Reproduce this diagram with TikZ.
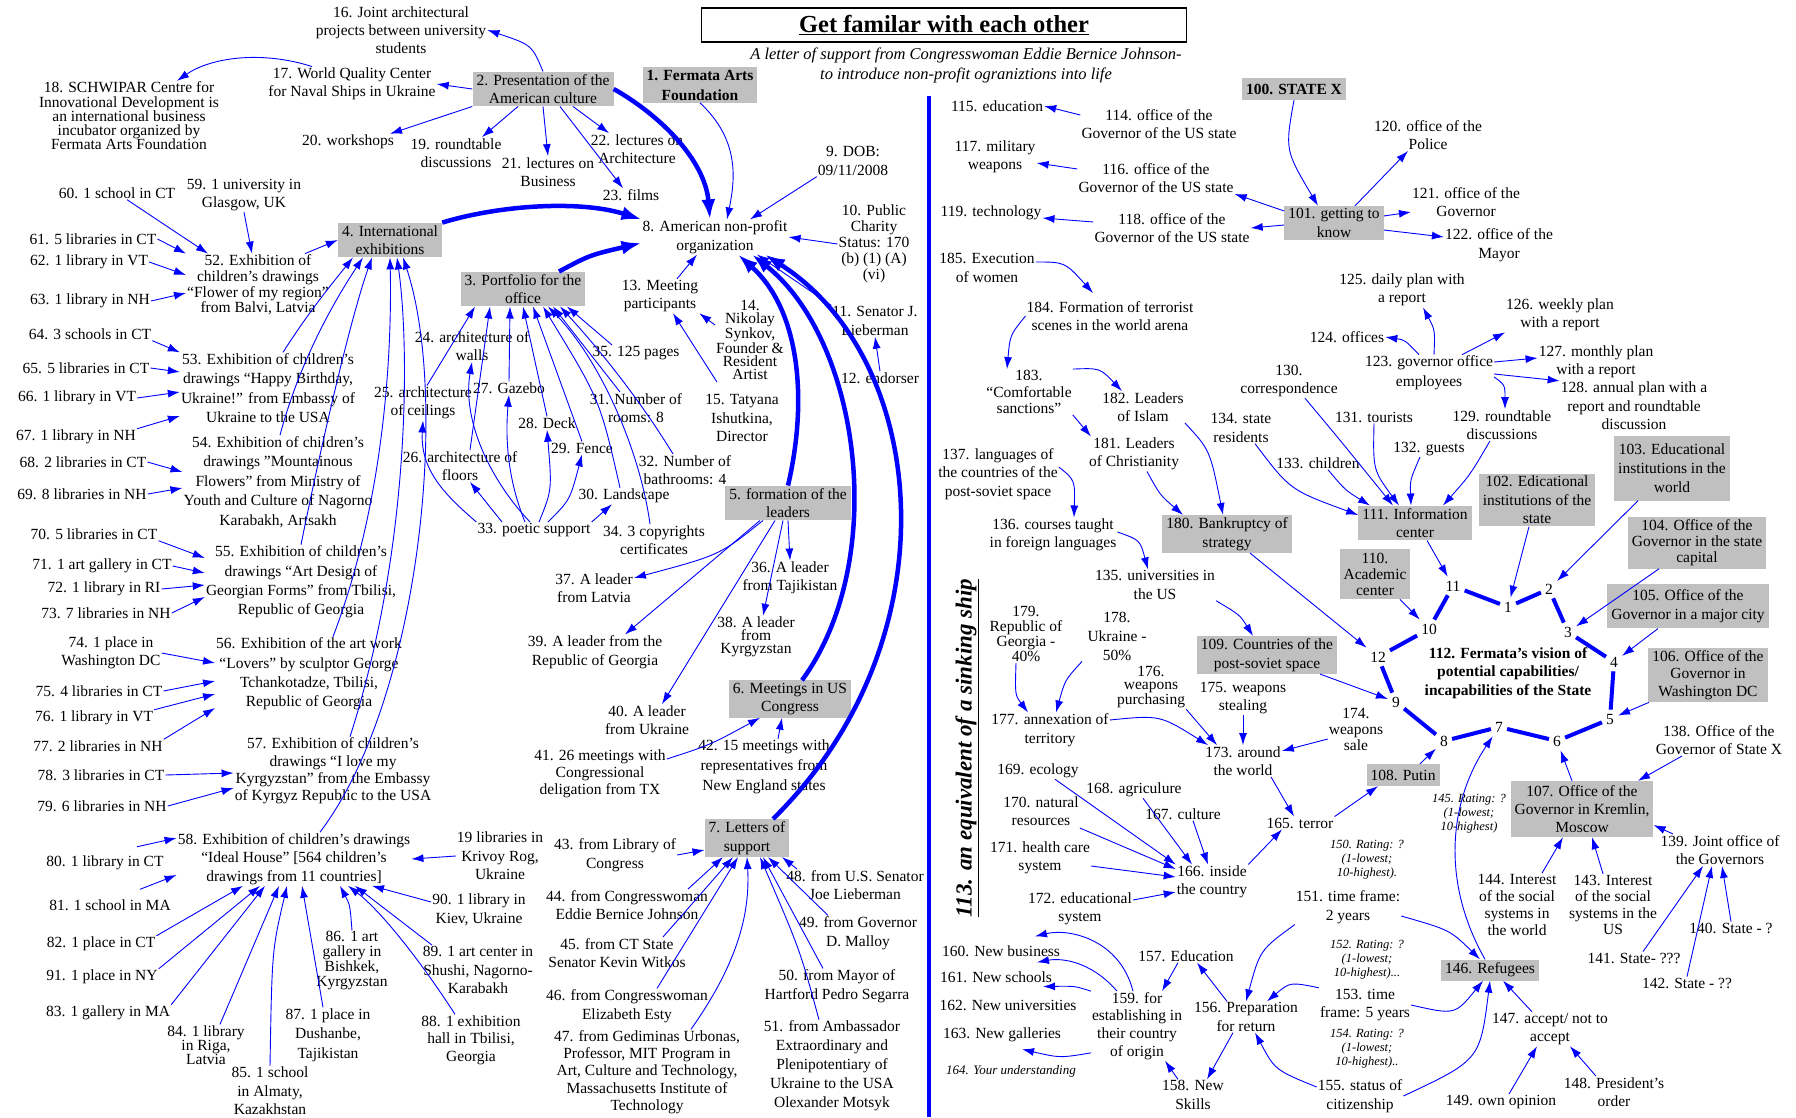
\documentclass[tikz,border=0pt]{standalone}
\usepackage{fontspec}
\setmainfont{Liberation Serif}
\usepackage{xcolor}
\usepackage{tikz}
\usetikzlibrary{arrows.meta}
\definecolor{arrblue}{RGB}{0,0,255}
\definecolor{boxgray}{RGB}{192,192,192}
\tikzset{
  every node/.style={align=center, inner sep=1pt, font=\fontsize{15.5}{18.5}\selectfont},
  lsp/.style={font=\fontsize{15.5}{#1}\selectfont},
  gbox/.style={fill=boxgray, inner xsep=4pt, inner ysep=2.5pt},
  rate/.style={font=\itshape\fontsize{12.5}{14}\selectfont},
  vtx/.style={inner sep=4pt},
  arr/.style={draw=arrblue, line width=0.9pt, -{Latex[length=12pt,width=8pt]}},
  fat/.style={draw=arrblue, line width=4.5pt, -{Latex[length=20pt,width=14pt]}},
  ring/.style={draw=arrblue, line width=4pt}
}
\begin{document}
\begin{tikzpicture}[x=1pt,y=-1pt]
\useasboundingbox (0,0) rectangle (1796,1117);
\fill[white] (0,0) rectangle (1796,1117);

\node[draw, line width=1.2pt, minimum width=485pt, minimum height=34pt, inner sep=0pt, font=\bfseries\fontsize{24.5}{28}\selectfont] (title) at (944,25) {\underline{Get familar with each other}};
\node[font=\itshape\fontsize{16.5}{20}\selectfont] (sub) at (966,65) {A letter of support from Congresswoman Eddie Bernice Johnson-\\to introduce non-profit ograniztions into life};
\draw[arrblue, line width=4pt] (929,96) -- (929,1117);
\node[rotate=90, font=\bfseries\itshape\fontsize{23}{26}\selectfont] (n113) at (967,748) {\underline{113. an equivalent of a sinking ship}};

% left half
\node[gbox, font=\bfseries\fontsize{15.5}{20}\selectfont] (n1) at (700,85) {1. Fermata Arts\\Foundation};
\node[gbox] (n2) at (543,89) {2. Presentation of the\\American culture};
\node[gbox] (n3) at (523,289) {3. Portfolio for the\\office};
\node[gbox] (n4) at (390,240) {4. International\\exhibitions};
\node[gbox] (n5) at (788,503) {5. formation of the\\leaders};
\node[gbox] (n6) at (790,699) {6. Meetings in US\\Congress};
\node[gbox] (n7) at (747,838) {7. Letters of\\support};
\node (n8) at (715,237) {8. American non-profit\\organization};
\node (n9) at (853,161) {9. DOB:\\09/11/2008};
\node[lsp=16] (n10) at (874,244) {10. Public\\Charity\\Status: 170\\(b) (1) (A)\\(vi)};
\node (n11) at (875,321) {11. Senator J.\\Lieberman};
\node (n12) at (880,378) {12. endorser};
\node (n13) at (660,296) {13. Meeting\\participants};
\node[lsp=13.2] (n14) at (750,340) {14.\\Nikolay\\Synkov,\\Founder \&\\Resident\\Artist};
\node (n15) at (742,418) {15. Tatyana\\Ishutkina,\\Director};
\node[lsp=18] (n16) at (401,30) {16. Joint architectural\\projects between university\\students};
\node (n17) at (352,84) {17. World Quality Center\\for Naval Ships in Ukraine};
\node[lsp=14.2] (n18) at (129,116) {18. SCHWIPAR Centre for\\Innovational Development is\\an international business\\incubator organized by\\Fermata Arts Foundation};
\node (n19) at (456,153) {19. roundtable\\discussions};
\node (n20) at (348,142) {20. workshops};
\node (n21) at (548,172) {21. lectures on\\Business};
\node (n22) at (637,149) {22. lectures on\\Architecture};
\node (n23) at (631,195) {23. films};
\node (n24) at (472,346) {24. architecture of\\walls};
\node (n25) at (423,403) {25. architecture\\of ceilings};
\node (n26) at (460,466) {26. architecture of\\floors};
\node (n27) at (509,388) {27. Gazebo};
\node (n28) at (547,423) {28. Deck};
\node (n29) at (582,448) {29. Fence};
\node (n30) at (624,496) {30. Landscape};
\node (n31) at (636,408) {31. Number of\\rooms: 8};
\node (n32) at (685,470) {32. Number of\\bathrooms: 4};
\node (n33) at (534,530) {33. poetic support};
\node (n34) at (654,540) {34. 3 copyrights\\certificates};
\node (n35) at (636,353) {35. 125 pages};
\node (n36) at (790,578) {36. A leader\\from Tajikistan};
\node (n37) at (594,588) {37. A leader\\from Latvia};
\node[lsp=13] (n38) at (756,637) {38. A leader\\from\\Kyrgyzstan};
\node (n39) at (595,652) {39. A leader from the\\Republic of Georgia};
\node (n40) at (647,720) {40. A leader\\from Ukraine};
\node[lsp=17] (n41) at (600,774) {41. 26 meetings with\\Congressional\\deligation from TX};
\node[lsp=20] (n42) at (764,767) {42. 15 meetings with\\representatives from\\New England states};
\node (n43) at (615,855) {43. from Library of\\Congress};
\node (n44) at (627,905) {44. from Congresswoman\\Eddie Bernice Johnson};
\node (n45) at (617,953) {45. from CT State\\Senator Kevin Witkos};
\node (n46) at (627,1006) {46. from Congresswoman\\Elizabeth Esty};
\node[lsp=17.2] (n47) at (647,1072) {47. from Gediminas Urbonas,\\Professor, MIT Program in\\Art, Culture and Technology,\\Massachusetts Institute of\\Technology};
\node (n48) at (855,885) {48. from U.S. Senator\\Joe Lieberman};
\node (n49) at (858,933) {49. from Governor\\D. Malloy};
\node (n50) at (837,986) {50. from Mayor of\\Hartford Pedro Segarra};
\node[lsp=19] (n51) at (832,1066) {51. from Ambassador\\Extraordinary and\\Plenipotentiary of\\Ukraine to the USA\\Olexander Motsyk};
\node[lsp=15.7] (n52) at (258,285) {52. Exhibition of\\children's drawings\\“Flower of my region”\\from Balvi, Latvia};
\node[lsp=19.3] (n53) at (268,388) {53. Exhibition of children's\\drawings “Happy Birthday,\\Ukraine!” from Embassy of\\Ukraine to the USA};
\node[lsp=19.5] (n54) at (278,482) {54. Exhibition of children's\\drawings "Mountainous\\Flowers” from Ministry of\\Youth and Culture of Nagorno\\Karabakh, Artsakh};
\node[lsp=19.3] (n55) at (301,582) {55. Exhibition of children's\\drawings “Art Design of\\Georgian Forms” from Tbilisi,\\Republic of Georgia};
\node[lsp=19.3] (n56) at (309,674) {56. Exhibition of the art work\\“Lovers” by sculptor George\\Tchankotadze, Tbilisi,\\Republic of Georgia};
\node[lsp=17.3] (n57) at (333,771) {57. Exhibition of children's\\drawings “I love my\\Kyrgyzstan” from the Embassy\\of Kyrgyz Republic to the USA};
\node (n58) at (294,859) {58. Exhibition of children's drawings\\“Ideal House” [564 children's\\drawings from 11 countries]};
\node[lsp=14] (n84) at (206,1045) {84. 1 library\\in Riga,\\Latvia};
\node (n85) at (270,1091) {85. 1 school\\in Almaty,\\Kazakhstan};
\node[lsp=15] (n86) at (352,961) {86. 1 art\\gallery in\\Bishkek,\\Kyrgyzstan};
\node[lsp=19.5] (n87) at (328,1035) {87. 1 place in\\Dushanbe,\\Tajikistan};
\node[lsp=17.5] (n88) at (471,1040) {88. 1 exhibition\\hall in Tbilisi,\\Georgia};
\node (n89) at (478,970) {89. 1 art center in\\Shushi, Nagorno-\\Karabakh};
\node (n90) at (479,910) {90. 1 library in\\Kiev, Ukraine};
\node (nkr) at (500,856) {19 libraries in\\Krivoy Rog,\\Ukraine};
\node (n59) at (244,195) {59. 1 university in\\Glasgow, UK};
\node (n60) at (117,193) {60. 1 school in CT};
\node (n61) at (93,239) {61. 5 libraries in CT};
\node (n62) at (89,262) {62. 1 library in VT};
\node (n63) at (90,301) {63. 1 library in NH};
\node (n64) at (90,334) {64. 3 schools in CT};
\node (n65) at (86,368) {65. 5 libraries in CT};
\node (n66) at (77,398) {66. 1 library in VT};
\node (n67) at (76,437) {67. 1 library in NH};
\node (n68) at (83,462) {68. 2 libraries in CT};
\node (n69) at (82,494) {69. 8 libraries in NH};
\node (n70) at (94,534) {70. 5 libraries in CT};
\node (n71) at (102,566) {71. 1 art gallery in CT};
\node (n72) at (104,589) {72. 1 library in RI};
\node (n73) at (106,613) {73. 7 libraries in NH};
\node (n74) at (111,653) {74. 1 place in\\Washington DC};
\node (n75) at (99,691) {75. 4 libraries in CT};
\node (n76) at (94,718) {76. 1 library in VT};
\node (n77) at (98,746) {77. 2 libraries in NH};
\node (n78) at (101,775) {78. 3 libraries in CT};
\node (n79) at (102,806) {79. 6 libraries in NH};
\node (n80) at (105,863) {80. 1 library in CT};
\node (n81) at (110,905) {81. 1 school in MA};
\node (n82) at (101,944) {82. 1 place in CT};
\node (n91) at (102,977) {91. 1 place in NY};
\node (n83) at (108,1013) {83. 1 gallery in MA};

\draw[arr] (n2.north) .. controls (532,45) .. (n16.east);
\draw[arr] (n2.west) -- (n17.east);
\draw[arr] ([xshift=-40pt]n17.north) .. controls (260,50) and (210,58) .. ([xshift=48pt]n18.north);
\draw[arr] (n2.south west) -- ([xshift=-5pt]n20.north east);
\draw[arr] ([xshift=-25pt]n2.south) -- ([xshift=26pt]n19.north);
\draw[arr] (n2.south) -- (n21.north);
\draw[arr] ([xshift=30pt]n2.south) -- ([xshift=-28pt]n22.north);
\draw[arr] ([xshift=17pt]n2.south) -- ([xshift=-8pt]n23.north);
\draw[fat] (n2.east) .. controls (660,115) and (705,160) .. ([xshift=-5pt]n8.north);
\draw[arr] (n1.south) .. controls (740,140) and (735,180) .. ([xshift=12pt]n8.north);
\draw[arr] (n9.south west) -- ([xshift=35pt]n8.north);
\draw[arr] (n10.west) -- (n8.east);
\draw[arr] (n11.north west) -- ([xshift=42pt]n8.south);
\draw[arr] (n12.north) -- (n11.south);
\draw[fat] (n4.north east) .. controls (500,205) and (580,200) .. (n8.north west);
\draw[fat] ([xshift=36pt]n3.north) .. controls (590,255) .. ([yshift=-6pt]n8.west);
\draw[fat] (n5.north) .. controls (808,400) and (800,310) .. ([xshift=23pt]n8.south);
\draw[fat] ([xshift=12pt]n6.north) .. controls (890,560) and (860,340) .. ([xshift=37pt]n8.south);
\draw[fat] ([xshift=26pt]n7.north) .. controls (955,640) and (930,360) .. ([xshift=50pt]n8.south);
\draw[arr] ([xshift=17pt]n13.north) -- ([xshift=-18pt]n8.south);
\draw[arr] ([yshift=15pt]n14.west) -- (n13.south east);
\draw[arr] ([xshift=-25pt,yshift=11pt]n15.north) -- ([xshift=13pt]n13.south);

\draw[arr] ([xshift=4pt]n25.north) -- ([xshift=-48pt]n3.south);
\draw[arr] ([xshift=10pt]n26.north) -- ([xshift=-33pt]n3.south);
\draw[arr] (n27.north) -- ([xshift=-13pt]n3.south);
\draw[arr] (n28.north) -- (n3.south);
\draw[arr] (n29.north) -- ([xshift=10pt]n3.south);
\draw[arr] ([xshift=-4pt]n30.north) .. controls (600,400) .. ([xshift=20pt]n3.south);
\draw[arr] ([xshift=-16pt]n31.north) -- ([xshift=30pt]n3.south);
\draw[arr] ([xshift=-4pt]n34.north) .. controls (640,450) and (600,360) .. ([xshift=25pt]n3.south);
\draw[arr] ([xshift=-12pt]n32.north) .. controls (640,400) and (600,350) .. ([xshift=37pt]n3.south);
\draw[arr] ([xshift=-24pt]n35.north) -- ([xshift=44pt]n3.south);
\draw[arr] ([xshift=-4pt]n33.north) .. controls (490,480) and (462,420) .. (n24.south);
\draw[arr] (n33.north west) .. controls (445,495) and (420,470) .. (n25.south);
\draw[arr] ([xshift=-32pt]n33.north) -- ([xshift=10pt]n26.south);
\draw[arr] ([xshift=-9pt]n33.north) .. controls (508,480) and (505,440) .. (n27.south);
\draw[arr] ([xshift=5pt]n33.north) .. controls (552,490) .. (n28.south);
\draw[arr] ([xshift=14pt]n33.north) .. controls (570,500) .. (n29.south);
\draw[arr] (n33.north east) -- ([xshift=-12pt]n30.south);

\draw[arr] ([xshift=47pt]n52.north) -- (n4.west);
\draw[arr] ([xshift=15pt]n53.north) .. controls (310,310) and (335,280) .. ([xshift=-37pt]n4.south);
\draw[arr] ([xshift=2pt]n54.north) .. controls (300,360) and (335,300) .. ([xshift=-27pt]n4.south);
\draw[arr] (n55.north) .. controls (320,450) and (350,320) .. ([xshift=-18pt]n4.south);
\draw[arr] ([xshift=24pt]n56.north) .. controls (385,500) and (392,350) .. (n4.south);
\draw[arr] ([xshift=17pt]n57.north) .. controls (410,550) and (410,350) .. ([xshift=7pt]n4.south);
\draw[arr] ([xshift=26pt]n58.north) .. controls (420,700) and (450,400) .. ([xshift=13pt]n4.south);
\draw[arr] (n59.south) -- ([xshift=-6pt]n52.north);
\draw[arr] (n60) -- ([xshift=-50pt]n52.north);
\draw[arr] (n61.east) -- (n52.north west);
\draw[arr] (n62.east) -- ([yshift=10pt]n52.west);
\draw[arr] (n63.east) -- ([yshift=-8pt]n52.west);
\draw[arr] (n64.south east) -- (n53.north west);
\draw[arr] (n65.east) -- ([yshift=16pt]n53.west);
\draw[arr] (n66.east) -- ([yshift=-4pt]n53.west);
\draw[arr] (n67.north east) -- ([yshift=-28pt]n53.west);
\draw[arr] (n68.east) -- ([yshift=10pt]n54.west);
\draw[arr] (n69.east) -- ([yshift=-6pt]n54.west);
\draw[arr] (n70.south east) -- ([yshift=24pt]n55.west);
\draw[arr] (n71.east) -- ([yshift=9pt]n55.west);
\draw[arr] (n72.east) -- ([yshift=-3pt]n55.west);
\draw[arr] (n73.east) -- ([yshift=-15pt]n55.west);
\draw[arr] (n74.east) -- ([yshift=11pt]n56.west);
\draw[arr] (n75.east) -- ([yshift=-7pt]n56.west);
\draw[arr] (n76.north east) -- ([yshift=-20pt]n56.west);
\draw[arr] (n77.north east) -- ([yshift=-34pt]n56.west);
\draw[arr] (n78.east) -- ([yshift=-2pt]n57.west);
\draw[arr] (n79.east) -- ([yshift=-17pt]n57.west);
\draw[arr] ([xshift=32pt,yshift=8pt]n80.north) -- ([yshift=21pt]n58.west);
\draw[arr] ([xshift=30pt,yshift=9pt]n81.north) -- ([yshift=-16pt]n58.west);
\draw[arr] (n82.north east) -- ([xshift=-51pt]n58.south);
\draw[arr] (n91.north east) -- ([xshift=-34pt]n58.south);
\draw[arr] (n83.north east) -- ([xshift=-29pt]n58.south);
\draw[arr] ([xshift=14pt]n84.north) -- ([xshift=-15pt]n58.south);
\draw[arr] (n85.north) .. controls (272,950) .. ([xshift=-7pt]n58.south);
\draw[arr] (n86.north) .. controls (350,905) .. ([xshift=46pt]n58.south);
\draw[arr] ([xshift=-5pt]n87.north) -- ([xshift=8pt]n58.south);
\draw[arr] ([xshift=-16pt]n88.north) .. controls (420,960) and (380,910) .. ([xshift=54pt]n58.south);
\draw[arr] ([xshift=-46pt]n89.north) -- ([xshift=61pt]n58.south);
\draw[arr] ([yshift=8pt]n90.west) -- ([xshift=78pt]n58.south);
\draw[arr] (nkr.west) -- (n58.east);

\draw[arr] (n5.south) -- (n36.north);
\draw[arr] ([xshift=-25pt]n5.south) .. controls (720,555) .. ([yshift=10pt]n37.east);
\draw[arr] ([xshift=-5pt]n5.south) -- ([xshift=7pt]n38.north);
\draw[arr] ([xshift=-28pt]n5.south) -- ([xshift=30pt]n39.north);
\draw[arr] ([xshift=-13pt]n5.south) -- ([xshift=15pt]n40.north);
\draw[arr] ([yshift=15pt]n41.east) .. controls (710,745) .. ([xshift=-30pt]n6.south);
\draw[arr] ([xshift=14pt]n42.north) -- ([xshift=-8pt]n6.south);
\draw[arr] (n43.east) -- ([yshift=-12pt]n7.west);
\draw[arr] ([xshift=61pt]n44.north) -- ([xshift=-24pt]n7.south);
\draw[arr] ([xshift=46pt]n45.north) -- ([xshift=-14pt]n7.south);
\draw[arr] ([xshift=30pt]n46.north) -- ([xshift=-9pt]n7.south);
\draw[arr] ([xshift=44pt]n47.north) .. controls (740,960) and (750,910) .. (n7.south);
\draw[arr] ([xshift=-58pt]n48.north) -- ([xshift=35pt]n7.south);
\draw[arr] ([xshift=-30pt]n49.north) -- ([xshift=21pt]n7.south);
\draw[arr] ([xshift=-14pt]n50.north) -- ([xshift=16pt]n7.south);
\draw[arr] ([xshift=-13pt]n51.north) .. controls (800,950) .. ([xshift=13pt]n7.south);

% right half
\node[gbox, minimum height=22pt, font=\bfseries\fontsize{15.5}{18.5}\selectfont] (n100) at (1294,89) {100. STATE X};
\node[gbox] (n101) at (1334,223) {101. getting to\\know};
\node[gbox] (n102) at (1537,500) {102. Edicational\\institutions of the\\state};
\node[gbox, minimum height=65pt, lsp=19] (n103) at (1672,468) {103. Educational\\institutions in the\\world};
\node[gbox, lsp=16] (n104) at (1697,543) {104. Office of the\\Governor in the state\\capital};
\node[gbox, inner ysep=6pt] (n105) at (1688,606) {105. Office of the\\Governor in a major city};
\node[gbox, lsp=17.5] (n106) at (1708,675) {106. Office of the\\Governor in\\Washington DC};
\node[gbox, inner ysep=4.5pt, lsp=18] (n107) at (1582,809) {107. Office of the\\Governor in Kremlin,\\Moscow};
\node[gbox, minimum height=22pt] (n108) at (1403,775) {108. Putin};
\node[gbox] (n109) at (1267,655) {109. Countries of the\\post-soviet space};
\node[gbox, lsp=16, inner ysep=4pt] (n110) at (1375,574) {110.\\Academic\\center};
\node[gbox] (n111) at (1415,523) {111. Information\\center};
\node[font=\bfseries\fontsize{15.5}{18.5}\selectfont] (n112) at (1508,673) {112. Fermata's vision of\\potential capabilities/\\incapabilities of the State};
\node (n114) at (1159,124) {114. office of the\\Governor of the US state};
\node (n115) at (997,106) {115. education};
\node (n116) at (1156,178) {116. office of the\\Governor of the US state};
\node (n117) at (995,157) {117. military\\weapons};
\node (n118) at (1172,228) {118. office of the\\Governor of the US state};
\node (n119) at (991,213) {119. technology};
\node (n120) at (1428,135) {120. office of the\\Police};
\node (n121) at (1466,202) {121. office of the\\Governor};
\node (n122) at (1499,245) {122. office of the\\Mayor};
\node[lsp=20] (n123) at (1429,373) {123. governor office\\employees};
\node (n124) at (1347,337) {124. offices};
\node (n125) at (1402,290) {125. daily plan with\\a report};
\node (n126) at (1560,315) {126. weekly plan\\with a report};
\node (n127) at (1596,362) {127. monthly plan\\with a report};
\node (n128) at (1634,406) {128. annual plan with a\\report and roundtable\\discussion};
\node (n129) at (1502,425) {129. roundtable\\discussions};
\node (n130) at (1289,381) {130.\\correspondence};
\node (n131) at (1374,417) {131. tourists};
\node (n132) at (1429,449) {132. guests};
\node (n133) at (1318,463) {133. children};
\node (n134) at (1241,428) {134. state\\residents};
\node (n135) at (1155,585) {135. universities in\\the US};
\node (n136) at (1053,535) {136. courses taught\\in foreign languages};
\node (n137) at (998,474) {137. languages of\\the countries of the\\post-soviet space};
\node (n138) at (1719,740) {138. Office of the\\Governor of State X};
\node (n139) at (1720,850) {139. Joint office of\\the Governors};
\node (n140) at (1731,928) {140. State - ?};
\node (n141) at (1634,958) {141. State- ???};
\node (n142) at (1687,983) {142. State - ??};
\node[lsp=16.5] (n143) at (1613,905) {143. Interest\\of the social\\systems in the\\US};
\node[lsp=17] (n144) at (1517,905) {144. Interest\\of the social\\systems in\\the world};
\node[rate] (n145) at (1469,814) {145. Rating: ?\\(1-lowest;\\10-highest)};
\node[gbox, minimum height=21pt] (n146) at (1490,970) {146. Refugees};
\node (n147) at (1550,1029) {147. accept/ not to\\accept};
\node (n148) at (1614,1092) {148. President's\\order};
\node (n149) at (1501,1102) {149. own opinion};
\node[rate] (n150) at (1367,860) {150. Rating: ?\\(1-lowest;\\10-highest).};
\node (n151) at (1348,907) {151. time frame:\\2 years};
\node[rate] (n152) at (1367,960) {152. Rating: ?\\(1-lowest;\\10-highest)...};
\node (n153) at (1365,1005) {153. time\\frame: 5 years};
\node[rate] (n154) at (1367,1049) {154. Rating: ?\\(1-lowest;\\10-highest)..};
\node (n155) at (1360,1096) {155. status of\\citizenship};
\node (n156) at (1246,1017) {156. Preparation\\for return};
\node (n157) at (1186,956) {157. Education};
\node (n158) at (1193,1095) {158. New\\Skills};
\node[lsp=17.7] (n159) at (1137,1026) {159. for\\establishing in\\their country\\of origin};
\node (n160) at (1001,951) {160. New business};
\node (n161) at (996,977) {161. New schools};
\node (n162) at (1008,1005) {162. New universities};
\node (n163) at (1002,1035) {163. New galleries};
\node[font=\itshape\fontsize{13}{15}\selectfont] (n164) at (1011,1071) {164. Your understanding};
\node (n165) at (1300,823) {165. terror};
\node (n166) at (1212,882) {166. inside\\the country};
\node (n167) at (1183,814) {167. culture};
\node (n168) at (1134,790) {168. agriculure};
\node (n169) at (1038,771) {169. ecology};
\node (n170) at (1041,811) {170. natural\\resources};
\node (n171) at (1040,858) {171. health care\\system};
\node (n172) at (1080,909) {172. educational\\system};
\node (n173) at (1243,761) {173. around\\the world};
\node[lsp=16] (n174) at (1356,729) {174.\\weapons\\sale};
\node (n175) at (1243,698) {175. weapons\\stealing};
\node[lsp=13.5] (n176) at (1151,687) {176.\\weapons\\purchasing};
\node (n177) at (1050,730) {177. annexation of\\territory};
\node[lsp=19] (n178) at (1117,636) {178.\\Ukraine -\\50\%};
\node[lsp=15] (n179) at (1026,634) {179.\\Republic of\\Georgia -\\40\%};
\node[gbox] (n180) at (1227,534) {180. Bankruptcy of\\strategy};
\node (n181) at (1134,454) {181. Leaders\\of Christianity};
\node (n182) at (1143,407) {182. Leaders\\of Islam};
\node[lsp=16.5] (n183) at (1029,392) {183.\\“Comfortable\\sanctions”};
\node (n184) at (1110,316) {184. Formation of terrorist\\scenes in the world arena};
\node (n185) at (987,268) {185. Execution\\of women};

\node[vtx] (s1) at (1508,607) {1};
\node[vtx] (s2) at (1549,589) {2};
\node[vtx] (s3) at (1568,632) {3};
\node[vtx] (s4) at (1614,662) {4};
\node[vtx] (s5) at (1610,719) {5};
\node[vtx] (s6) at (1557,741) {6};
\node[vtx] (s7) at (1499,727) {7};
\node[vtx] (s8) at (1444,741) {8};
\node[vtx] (s9) at (1396,702) {9};
\node[vtx] (s10) at (1429,629) {10};
\node[vtx] (s11) at (1453,586) {11};
\node[vtx] (s12) at (1378,657) {12};
\draw[ring] (s11) -- (s1);
\draw[ring] (s1) -- (s2);
\draw[ring] (s2) -- (s3);
\draw[ring] (s3) -- (s4);
\draw[ring] (s4) -- (s5);
\draw[ring] (s5) -- (s6);
\draw[ring] (s6) -- (s7);
\draw[ring] (s7) -- (s8);
\draw[ring] (s8) -- (s9);
\draw[ring] (s9) -- (s12);
\draw[ring] (s12) -- (s10);
\draw[ring] (s10) -- (s11);

\draw[arr] (n100.south) .. controls (1285,150) .. ([xshift=-16pt]n101.north);
\draw[arr] ([yshift=9pt]n114.west) -- (n115.east);
\draw[arr] ([yshift=9pt]n116.west) -- ([yshift=-6pt]n117.east);
\draw[arr] ([yshift=6pt]n118.west) -- ([yshift=-5pt]n119.east);
\draw[arr] ([yshift=12pt]n101.west) -- (n116.south east);
\draw[arr] ([yshift=-2pt]n101.west) -- (n118.east);
\draw[arr] ([xshift=21pt]n101.north) -- ([xshift=-20pt]n120.south);
\draw[arr] ([yshift=7pt]n101.east) -- ([yshift=-10pt]n121.west);
\draw[arr] ([yshift=-7pt]n101.east) -- ([yshift=8pt]n122.west);
\draw[arr] ([xshift=-10pt]n123.north) .. controls (1405,340) .. (n124.east);
\draw[arr] ([xshift=5pt]n123.north) .. controls (1435,330) .. ([xshift=21pt]n125.south);
\draw[arr] ([xshift=33pt]n123.north) -- ([xshift=-55pt]n126.south);
\draw[arr] ([yshift=11pt]n123.east) -- ([yshift=4pt]n127.west);
\draw[arr] ([yshift=-1pt]n123.east) -- (n128.north west);
\draw[arr] ([yshift=-4pt]n123.east) .. controls (1505,385) .. ([xshift=3pt]n129.north);
\draw[arr] ([xshift=16pt]n130.south) .. controls (1340,440) .. ([xshift=-22pt]n111.north);
\draw[arr] (n131.south) .. controls (1373,470) .. ([xshift=-16pt]n111.north);
\draw[arr] ([xshift=-9pt]n132.south) .. controls (1410,480) .. ([xshift=-4pt]n111.north);
\draw[arr] ([xshift=10pt]n133.south) .. controls (1345,490) .. ([xshift=-45pt]n111.north);
\draw[arr] ([xshift=14pt]n134.south) .. controls (1290,490) .. ([yshift=8pt]n111.west);
\draw[arr] ([xshift=-12pt]n129.south) .. controls (1470,475) .. ([xshift=28pt]n111.north);
\draw[arr] ([xshift=12pt]n111.south) -- (s11);
\draw[arr] ([xshift=25pt]n110.south) -- (s10);
\draw[arr] ([xshift=-8pt]n102.south) -- (s1);
\draw[arr] ([xshift=-34pt]n103.south) -- (s2);
\draw[arr] ([xshift=-38pt]n104.south) -- (s3);
\draw[arr] ([xshift=-30pt]n105.south) -- (s4);
\draw[arr] ([xshift=-59pt]n106.south) -- (s5);
\draw[arr] ([xshift=-10pt]n107.north) -- (s6);
\draw[arr] ([xshift=-37pt]n138.south) -- ([xshift=56pt]n107.north);
\draw[arr] ([xshift=-47pt]n139.north) -- ([yshift=-16pt]n107.east);
\draw[arr] ([xshift=25pt]n144.north) -- ([xshift=-19pt]n107.south);
\draw[arr] ([xshift=-10pt]n143.north) -- ([xshift=10pt]n107.south);
\draw[arr] ([xshift=9pt]n141.north) -- ([xshift=-17pt]n139.south);
\draw[arr] (n142.north) -- ([xshift=-8pt]n139.south);
\draw[arr] (n140.north) -- ([xshift=2pt]n139.south);
\draw[arr] ([yshift=6pt]n185.east) .. controls (1065,262) .. ([xshift=-17pt,yshift=7pt]n184.north);
\draw[arr] (n184.west) .. controls (1010,335) .. ([xshift=-22pt]n183.north);
\draw[arr] (n183.north east) .. controls (1100,368) .. ([xshift=-21pt]n182.north);
\draw[arr] (n183.south east) -- ([xshift=-43pt]n181.north);
\draw[arr] ([xshift=13pt]n181.south) .. controls (1160,495) .. ([xshift=-44pt]n180.north);
\draw[arr] (n182.south east) .. controls (1210,450) .. ([xshift=-4pt]n180.north);
\draw[arr] ([xshift=23pt]n180.south) -- (s12);
\draw[arr] ([yshift=7pt]n137.east) .. controls (1075,480) .. ([xshift=21pt]n136.north);
\draw[arr] ([yshift=3pt]n136.east) .. controls (1140,540) .. ([xshift=-7pt]n135.north);
\draw[arr] (n135.south east) .. controls (1240,615) .. ([xshift=-14pt]n109.north);
\draw[arr] ([xshift=53pt]n109.south) -- (s9);
\draw[arr] ([xshift=-10pt]n179.south) .. controls (1015,695) .. ([xshift=-22pt]n177.north);
\draw[arr] ([xshift=-35pt]n178.south) .. controls (1065,680) .. ([xshift=6pt]n177.north);
\draw[arr] ([yshift=10pt]n177.east) .. controls (1160,715) .. ([xshift=-35pt]n173.north);
\draw[arr] (n176.south east) -- ([xshift=-26pt]n173.north);
\draw[arr] (n175.south) -- (n173.north);
\draw[arr] ([yshift=-10pt]n174.west) -- ([yshift=10pt]n173.east);
\draw[arr] ([xshift=28pt]n173.south) -- ([xshift=-6pt]n165.north);
\draw[arr] (n165.north east) -- ([xshift=-25pt]n108.south);
\draw[arr] ([xshift=17pt]n108.north) -- (s8);
\draw[arr] (n166.north east) -- ([xshift=-18pt]n165.south);
\draw[arr] ([xshift=17pt]n169.south) -- (n166.north west);
\draw[arr] ([xshift=9pt]n168.south) -- ([xshift=-20pt]n166.north);
\draw[arr] ([xshift=10pt]n167.south) -- ([xshift=-4pt]n166.north);
\draw[arr] ([yshift=-17pt]n170.east) -- ([yshift=13pt]n166.west);
\draw[arr] ([yshift=-8pt]n171.east) -- ([yshift=5pt]n166.west);
\draw[arr] ([yshift=9pt]n172.east) -- ([yshift=-10pt]n166.west);
\draw[arr] ([xshift=-4pt]n159.north) .. controls (1120,940) and (1070,928) .. ([xshift=34pt,yshift=8pt]n160.north);
\draw[arr] ([xshift=-20pt]n159.north) .. controls (1090,960) and (1060,958) .. ([xshift=41pt,yshift=8pt]n161.north);
\draw[arr] (n159.north west) .. controls (1075,986) .. ([xshift=35pt,yshift=12pt]n162.north);
\draw[arr] ([yshift=8pt]n159.south west) .. controls (1060,1058) .. ([xshift=20pt,yshift=-6pt]n163.south);
\draw[arr] ([xshift=-8pt]n157.south) -- ([xshift=25pt]n159.north);
\draw[arr] ([xshift=-19pt]n156.north) -- ([xshift=11pt]n157.south);
\draw[arr] ([xshift=-13pt]n156.south) -- ([xshift=14pt]n158.north);
\draw[arr] ([xshift=-15pt]n158.north) -- ([xshift=28pt]n159.south);
\draw[arr] (n151.south west) .. controls (1260,950) .. (n156.north);
\draw[arr] (n153.north west) .. controls (1290,982) .. ([xshift=21pt]n156.north);
\draw[arr] ([yshift=9pt]n155.west) .. controls (1275,1070) .. ([xshift=9pt]n156.south);
\draw[arr] ([yshift=-9pt]n151.east) .. controls (1450,930) .. ([xshift=-10pt]n146.north);
\draw[arr] (n153.east) .. controls (1455,1015) .. ([xshift=-7pt]n146.south);
\draw[arr] (n155.east) .. controls (1480,1060) .. (n146.south);
\draw[arr] ([xshift=-5pt]n146.north) .. controls (1440,880) and (1450,800) .. (s7);
\draw[arr] ([xshift=-18pt]n147.north) -- ([xshift=13pt]n146.south);
\draw[arr] ([xshift=8pt]n149.north) -- ([xshift=-13pt]n147.south);
\draw[arr] ([xshift=-18pt]n148.north) -- ([xshift=20pt]n147.south);
\end{tikzpicture}
\end{document}
